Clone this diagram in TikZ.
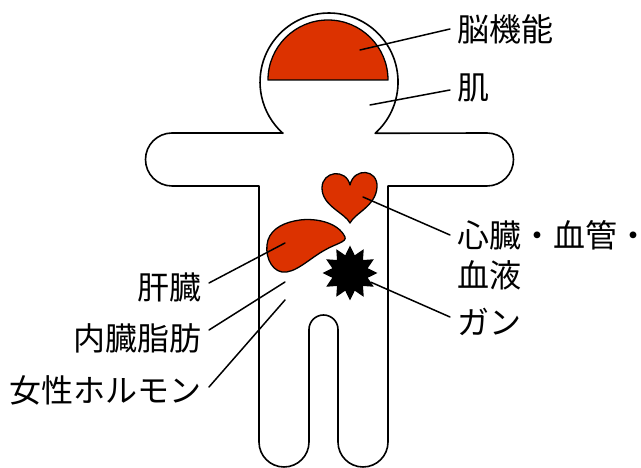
\documentclass[tikz,border=0pt]{standalone}
\usepackage{fontspec}
\setmainfont{Noto Sans CJK JP}
\usetikzlibrary{shapes.geometric}
\definecolor{organred}{RGB}{220,50,0}
\begin{document}
\begin{tikzpicture}[x=1pt,y=1pt,line join=round,line cap=round,
		body/.style={line width=1.6pt},
		organ/.style={draw,line width=1.3pt,fill=organred},
		lbl/.style={font=\fontsize{32}{40}\selectfont,inner xsep=7pt,inner ysep=2pt},
		lead/.style={line width=1.5pt}]
	\useasboundingbox (0,0) rectangle (641,468);
	% outline of the figure
	\draw[body] (283,335) -- (172,335) arc (90:270:26.5) -- (259,282) -- (259,26) arc (180:360:25)
		-- (309,138.5) arc (180:0:14.5) -- (338,26) arc (180:360:25) -- (388,282) -- (487,282)
		arc (-90:90:26.5) -- (375.2,334.7) arc (-48:228:69) -- cycle;
	% organs
	\draw[organ] (268,388) arc (180:0:60) -- cycle;
	\draw[organ] (350,245) .. controls (345,255) and (322,262) .. (322,280)
		.. controls (322,297) and (346,300) .. (350,283)
		.. controls (354,301) and (378,299) .. (377,281)
		.. controls (376,262) and (355,255) .. (350,245) -- cycle;
	\draw[organ] (345,231) .. controls (338,246) and (315,250) .. (300,248)
		.. controls (285,246) and (272,240) .. (268,228)
		.. controls (264,215) and (270,198) .. (282,196)
		.. controls (295,194) and (310,210) .. (325,218)
		.. controls (335,224) and (347,226) .. (345,231) -- cycle;
	\node[star,star points=12,star point ratio=1.5,fill=black,minimum size=55pt,inner sep=0pt] (cancer) at (350,195) {};
	\coordinate (brain) at (360,418);
	\coordinate (skin) at (370,363);
	\coordinate (heart) at (363,271);
	\coordinate (liver) at (285,225);
	\coordinate (fat) at (285,186);
	\coordinate (hormone) at (285,168);
	% labels
	\node[lbl,anchor=west] (brainlbl) at (450,439) {脳機能};
	\node[lbl,anchor=west] (skinlbl) at (450,380) {肌};
	\node[lbl,anchor=west] (heartlbl) at (450,233) {心臓・血管・};
	\node[lbl,anchor=west] (bloodlbl) at (450,193) {血液};
	\node[lbl,anchor=west] (cancerlbl) at (450,146) {ガン};
	\node[lbl,anchor=east] (liverlbl) at (209,181) {肝臓};
	\node[lbl,anchor=east] (fatlbl) at (209,130) {内臓脂肪};
	\node[lbl,anchor=east] (hormonelbl) at (209,78) {女性ホルモン};
	% leader lines
	\draw[lead] (brain) -- (brainlbl.west);
	\draw[lead] (skin) -- ([yshift=-2pt]skinlbl.west);
	\draw[lead] (heart) -- (heartlbl.west);
	\draw[lead] (cancer) -- ([yshift=5pt]cancerlbl.west);
	\draw[lead] (liver) -- ([yshift=4pt]liverlbl.east);
	\draw[lead] (fat) -- ([yshift=8pt]fatlbl.east);
	\draw[lead] (hormone) -- ([yshift=3pt]hormonelbl.east);
\end{tikzpicture}
\end{document}
